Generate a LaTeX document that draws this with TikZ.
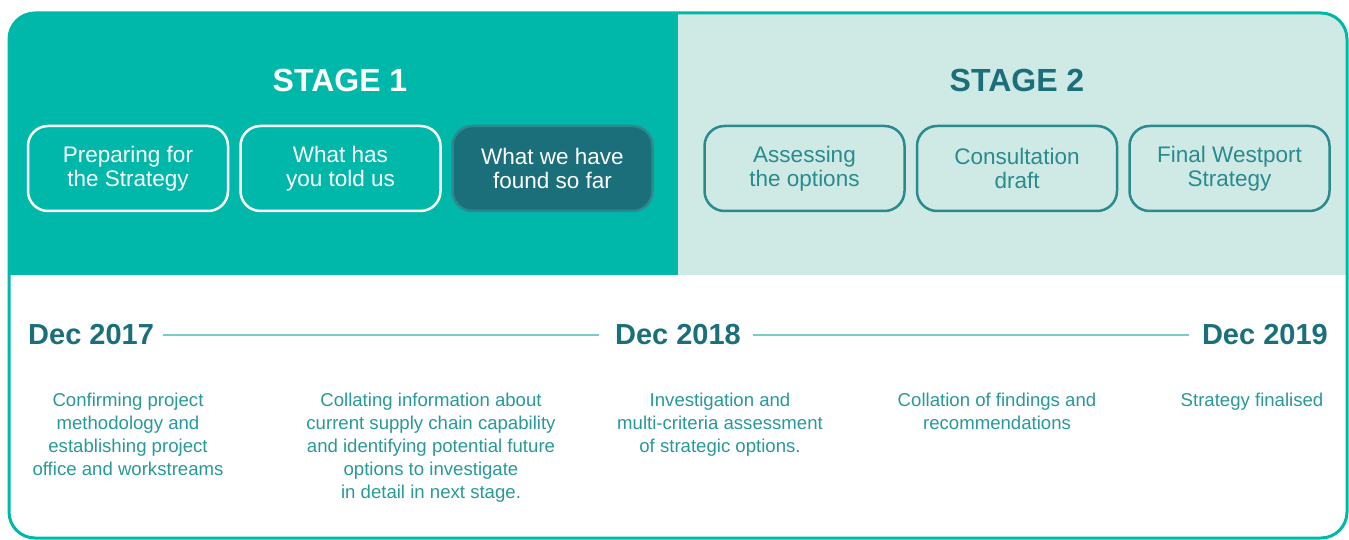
\documentclass[tikz,border=0pt]{standalone}
\usepackage{fontspec}
\setmainfont{Liberation Sans}
\definecolor{stageteal}{RGB}{0, 184, 169}
\definecolor{stagepale}{RGB}{207, 234, 229}
\definecolor{darkteal}{RGB}{27, 111, 123}
\definecolor{midteal}{RGB}{42, 138, 142}
\definecolor{noteteal}{RGB}{40, 152, 152}
\definecolor{lineteal}{RGB}{122, 204, 198}
\usetikzlibrary{positioning, calc}

\tikzset{
  stagebox/.style={draw, line width=2.5pt, rounded corners=20pt, minimum width=200pt,
    minimum height=85pt, align=center, inner sep=0pt,
    font=\fontsize{22.5}{24}\selectfont},
  oneboxA/.style={stagebox, draw=white, text=white},
  oneboxB/.style={stagebox, draw=midteal, fill=darkteal, text=white},
  twobox/.style={stagebox, draw=midteal, text=midteal},
  stagetitle/.style={font=\bfseries\fontsize{32}{36}\selectfont},
  datelabel/.style={font=\bfseries\fontsize{29}{32}\selectfont, text=darkteal, inner sep=0pt},
  note/.style={align=center, inner sep=0pt, anchor=north, text=noteteal,
    font=\fontsize{18.6}{23}\selectfont},
  timeline/.style={draw=lineteal, line width=2pt}
}

\begin{document}
\begin{tikzpicture}[x=1pt, y=-1pt]
  \useasboundingbox (0,0) rectangle (1349,540);

  % header bands
  \begin{scope}
    \clip[rounded corners=26pt] (9,13) rectangle (1347,538);
    \fill[stageteal] (9,13) rectangle (678,275);
    \fill[stagepale] (678,13) rectangle (1347,275);
  \end{scope}
  \draw[stageteal, line width=3pt, rounded corners=26pt] (9,13) rectangle (1347,538);

  \node[stagetitle, text=white] (s1) at (340,80) {STAGE 1};
  \node[stagetitle, text=darkteal] (s2) at (1017,80) {STAGE 2};

  % stage boxes
  \node[oneboxA] (prep) at (128,168.5) {Preparing for\\the Strategy};
  \node[oneboxA] (told) at (340.5,168.5) {What has\\you told us};
  \node[oneboxB] (found) at (552.5,168.5) {What we have\\found so far};
  \node[twobox] (assess) at (804.5,168.5) {Assessing\\the options};
  \node[twobox] (consult) at (1017,168.5) {Consultation\\draft};
  \node[twobox] (final) at (1229.5,168.5) {Final Westport\\Strategy};

  % timeline
  \node[datelabel, anchor=west] (d17) at (28,335) {Dec 2017};
  \node[datelabel] (d18) at (678,335) {Dec 2018};
  \node[datelabel, anchor=east] (d19) at (1328,335) {Dec 2019};
  \draw[timeline] ([xshift=9pt]d17.east) -- ([xshift=-16pt]d18.west);
  \draw[timeline] ([xshift=12pt]d18.east) -- ([xshift=-13pt]d19.west);

  \node[note] (n1) at (128,393) {Confirming project\\methodology and\\establishing project\\office and workstreams};
  \node[note] (n2) at (431,393) {Collating information about\\current supply chain capability\\and identifying potential future\\options to investigate\\in detail in next stage.};
  \node[note] (n3) at (720,393) {Investigation and\\multi-criteria assessment\\of strategic options.};
  \node[note] (n4) at (997,393) {Collation of findings and\\recommendations};
  \node[note] (n5) at (1252,393) {Strategy finalised};
\end{tikzpicture}
\end{document}
